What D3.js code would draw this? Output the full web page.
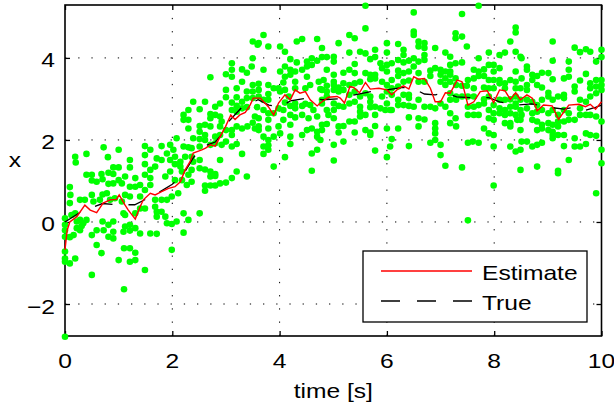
<!DOCTYPE html>
<html><head><meta charset="utf-8">
<script src="https://cdn.jsdelivr.net/npm/d3@7/dist/d3.min.js"></script>
<style>body{margin:0;background:#fff} text{font-family:"Liberation Sans",Arial,Helvetica,sans-serif;fill:#000}</style>
</head><body><svg id="c" width="614" height="413"></svg>
<script>
const xTicks=[0,2,4,6,8,10];
const yTicks=[-2,0,2,4];
const xDomain=[0,10];
const yDomain=[-2.78,5.29];
const xLabel="time [s]";
const yLabel="x";
const legendLabels=["Estimate","True"];

const estimateT=[0,0.04,0.09,0.22,0.37,0.47,0.59,0.71,0.84,0.96,1.01,1.12,1.18,1.31,1.40,1.46,1.59,1.68,1.80,1.93,2.05,2.15,2.24,2.33,2.39,2.45,2.55,2.62,2.71,2.80,2.89,2.99,3.09,3.17,3.26,3.36,3.45,3.51,3.64,3.79,3.89,3.98,4.10,4.20,4.29,4.38,4.48,4.57,4.70,4.76,4.91,5.07,5.13,5.21,5.31,5.38,5.49,5.60,5.69,5.85,6.00,6.09,6.22,6.31,6.41,6.50,6.59,6.70,6.81,6.90,7.00,7.09,7.18,7.31,7.40,7.51,7.62,7.74,7.87,7.99,8.10,8.20,8.30,8.40,8.49,8.61,8.71,8.80,8.92,9.08,9.20,9.39,9.58,9.70,9.79,9.89,10.0];
const estimateY=[-0.68,-0.2,0.0,0.13,0.41,0.29,0.23,0.46,0.54,0.55,0.66,0.41,0.29,0.07,0.37,0.54,0.70,0.66,0.74,0.82,0.86,0.98,1.27,1.47,1.68,1.71,1.76,1.80,1.88,1.85,2.08,2.32,2.61,2.50,2.61,2.67,2.85,3.02,3.02,2.81,2.61,2.90,3.10,2.98,3.22,3.14,3.18,2.98,2.83,2.90,3.04,3.06,3.02,2.90,3.30,3.28,3.15,3.40,3.24,3.26,3.22,3.10,3.26,3.32,3.24,3.54,3.48,3.50,3.26,2.93,2.93,3.15,3.14,3.46,3.42,2.85,2.93,3.18,3.20,2.91,3.22,3.20,2.99,3.15,2.98,3.10,3.02,2.71,2.85,2.83,2.50,2.85,2.87,2.81,2.87,2.75,2.93];

const trueT=[0,0.3,0.5,0.7,1.0,1.3,1.5,1.7,2.0,2.2,2.4,2.6,2.8,2.9,3.05,3.3,3.6,3.8,4.0,4.2,4.5,4.8,5.1,5.4,5.7,6.0,6.3,6.5,6.7,6.9,7.1,7.3,7.6,7.9,8.1,8.4,8.7,9.0,9.3,9.5,9.7,9.9,10.0];
const trueY=[0,0.25,0.35,0.45,0.42,0.42,0.55,0.68,0.92,1.15,1.58,1.85,1.95,2.1,2.45,2.8,2.98,2.85,2.8,2.95,3.02,2.98,3.0,3.1,3.18,3.22,3.28,3.25,3.12,3.1,3.15,3.05,3.03,3.03,2.93,2.85,2.88,2.8,2.75,2.8,2.72,2.8,2.85];

const measurements=[
[0.19,1.59],[0.20,1.45],[0.40,1.66],[0.80,1.58],[1.0,1.76],[0.72,1.82],
[0.40,1.15],[0.50,1.15],[0.50,1.01],[0.59,0.98],[0.68,1.17],[0.70,1.04],[0.81,1.20],[0.90,1.17],[0.90,1.33],[1.0,1.33],[1.0,1.02],[0.81,0.93],[0.90,0.94],[1.06,0.94],
[0.09,0.85],[0.10,0.66],[0.09,0.46],
[0.28,0.54],[0.37,0.54],[0.50,0.66],[0.53,0.50],[0.65,0.54],[0.70,0.67],[0.78,0.70],[0.84,0.54],[0.93,0.58],[1.06,0.50],
[0,0.09],[0,-0.07],[0.12,0.17],[0.19,0.21],[0.22,0.01],[0.28,0.05],[0.34,-0.03],[0.40,0.05],[0.22,-0.15],[0.28,-0.20],[0.31,-0.10],[0,-0.20],[0,-0.36],[0.09,-0.37],[0.16,-0.32],
[0.50,-0.32],[0.59,-0.20],[0.59,-0.56],[0.70,0.01],[0.72,-0.20],[0.81,-0.36],[0.90,-0.40],[0.90,0.01],[1.09,0.21],[1.09,-0.24],[1.10,-0.64],[0.68,-0.76],[0.50,-1.29],[0,-0.72],[0,-0.89],[0,-0.97],[0.09,-1.01],[0.19,-0.89],[1.0,-0.93],[1.10,-1.64],[0,-2.8],[0.81,-0.07],[0.90,-0.24],
[2.39,2.93],[2.30,2.73],[2.21,2.61],[2.21,2.49],[2.30,2.49],[2.30,2.28],[2.08,2.04],[2.39,2.04],[1.96,1.88],[2.21,1.84],[2.30,1.82],[2.36,1.80],[1.49,1.85],[1.59,1.76],[1.49,1.63],[1.80,1.85],[1.90,1.67],[2.02,1.76],
[1.21,1.51],[1.21,1.33],[1.71,1.55],[1.80,1.51],[1.96,1.51],[2.05,1.59],[2.05,1.41],[2.15,1.47],[2.15,1.35],[2.24,1.59],[2.36,1.59],[2.36,1.27],[1.49,1.41],[1.49,1.15],[1.59,1.27],[1.59,1.07],[1.68,1.35],[1.31,1.07],[1.21,0.86],[1.31,0.86],[1.40,0.90],[1.12,1.11],[1.12,0.66],[1.21,0.62],[1.40,0.62],[1.49,0.78],[1.59,0.90],[1.68,0.54],[1.80,0.54],[1.90,0.54],[1.87,1.11],[1.96,1.23],[2.05,1.02],[2.18,1.23],[2.18,1.02],[2.27,0.90],[2.30,1.15],[1.99,0.62],[2.11,0.70],[2.36,0.98],
[1.40,0.33],[1.31,0.21],[1.49,0.33],[1.68,0.37],[1.71,0.25],[1.71,0.13],[1.80,0.25],[1.87,0.13],[1.90,-0.03],[1.99,-0.05],[2.08,0.01],[2.21,0.21],[2.30,0.05],[1.12,0.17],[1.12,-0.11],[1.21,-0.07],[1.21,-0.21],[1.31,-0.15],[1.40,-0.28],[1.59,-0.28],[1.71,-0.29],[2.21,-0.26],[1.99,-0.68],[1.21,-0.64],[1.31,-0.75],[1.31,-0.93],[1.21,-0.97],[1.49,-1.17],[2.51,0.21],
[3.50,4.40],[3.59,4.32],[3.50,3.99],[3.48,3.79],[3.30,3.72],[3.39,3.64],[3.11,3.87],[3.11,3.71],[3.11,3.54],[3.00,3.60],[3.30,3.42],[2.71,3.53],[3.61,3.37],[3.50,3.34],[3.50,3.18],[3.61,3.22],[3.00,3.22],[3.20,3.26],[3.39,3.18],[3.20,3.04],[3.00,3.04],[3.30,2.93],[3.39,3.02],[3.50,3.02],[3.61,3.06],
[2.61,2.93],[2.89,2.89],[3.11,2.91],[3.20,2.83],[3.30,2.77],[3.39,2.80],[3.58,2.80],[2.80,2.81],[2.51,2.75],[2.71,2.63],[2.80,2.61],[2.71,2.53],[2.89,2.57],[2.92,2.45],[3.11,2.73],[3.20,2.69],[3.61,2.33],[3.61,2.24],[3.40,2.33],[3.50,2.42],[3.20,2.33],[3.30,2.28],[2.61,2.37],[2.51,2.34],[2.89,2.33],[3.00,2.24],[3.11,2.24],[2.71,2.33],[2.51,2.20],[2.61,2.12],[2.80,2.08],[2.89,2.12],[3.11,2.12],[2.51,2.02],[2.61,2.00],[3.00,1.96],[3.11,1.84],[2.80,1.92],[2.71,1.88],[2.51,1.84],[2.92,1.88],[3.20,1.90],[3.30,1.66],[2.89,1.51],[2.39,1.47],[2.51,1.51],[2.51,1.31],[2.61,1.28],[2.71,1.23],[2.80,1.17],[2.71,1.11],[2.80,1.12],[3.20,1.23],[3.11,1.07],[3.00,0.96],[2.89,0.94],[2.80,0.89],[2.71,0.89],[2.61,0.89],[2.61,0.76],[3.39,1.11],
[3.70,4.56],[3.61,4.36],[3.79,4.28],[4.01,4.28],[4.10,4.15],[4.32,4.40],[4.42,4.46],[4.70,4.46],[4.79,4.24],[4.79,4.02],[4.70,3.93],[4.20,3.97],[4.32,3.89],[3.70,3.71],[4.01,3.67],[4.10,3.79],[4.10,3.54],[4.20,3.71],[4.20,3.59],[4.29,3.67],[4.42,3.71],[4.51,3.91],[4.51,3.79],[4.51,3.54],[4.60,3.99],[4.60,3.83],[4.73,3.42],[4.82,3.46],[4.29,3.42],[4.07,3.40],[3.98,3.26],[3.79,3.34],
[3.79,3.12],[3.89,3.26],[4.01,3.18],[4.10,3.22],[4.29,3.26],[4.48,3.26],[4.57,3.34],[4.76,3.24],[3.70,2.98],[3.79,2.98],[4.10,2.91],[4.17,3.06],[4.20,2.83],[4.29,2.89],[4.42,2.83],[4.48,2.88],[4.57,2.85],[4.63,2.73],[4.79,2.98],[3.70,2.73],[3.79,2.65],[3.89,2.65],[3.98,2.77],[4.07,2.73],[4.29,2.77],[4.42,2.61],[4.29,2.55],[4.54,2.53],[4.70,2.57],[3.54,2.57],[3.61,2.53],[4.07,2.49],[4.20,2.61],[3.54,2.28],[3.79,2.28],[3.98,2.33],[3.79,2.49],[4.20,2.37],[4.51,2.24],[4.60,2.28],[4.70,2.20],[4.79,2.24],[3.70,2.08],[3.79,2.00],[3.89,2.08],[4.42,2.12],[4.70,2.08],[4.01,2.16],[4.20,2.08],[4.20,1.90],[3.79,1.87],[3.70,1.84],[3.79,1.76],[3.70,1.66],[4.60,1.67],[4.70,1.76],[4.10,1.58],[3.89,1.35],[4.60,1.25],
[5.60,5.27],[5.60,4.72],[5.30,4.56],[5.40,4.48],[5.10,4.36],[6.0,4.36],[5.01,4.03],[5.01,3.91],[4.88,4.02],[5.30,4.13],[5.50,4.15],[5.60,4.11],[5.78,4.20],[5.78,4.02],[5.69,3.97],[5.88,3.87],[6.0,3.83],[5.91,3.75],[6.0,3.67],[4.88,3.71],[5.01,3.59],[5.19,3.64],[5.30,3.71],[5.40,3.85],[5.40,3.63],[5.60,3.63],[5.69,3.59],[5.78,3.59],[5.69,3.48],[5.50,3.42],[4.88,3.32],[5.01,3.42],[5.01,3.34],[5.10,3.28],[5.19,3.38],[5.30,3.34],[5.40,3.38],[5.78,3.50],[5.91,3.42],[6.0,3.34],
[4.88,3.18],[4.79,3.22],[5.01,3.22],[5.10,3.18],[5.19,3.22],[5.30,3.10],[5.40,3.18],[5.60,3.14],[5.50,3.06],[5.69,3.06],[5.91,3.06],[6.0,3.18],[4.88,3.06],[5.01,2.89],[5.10,2.83],[5.19,2.81],[4.88,2.73],[5.01,2.73],[5.30,2.89],[5.40,2.93],[5.50,2.81],[5.69,2.93],[5.78,2.81],[5.69,2.80],[5.88,2.77],[5.97,2.73],[6.06,2.73],[4.79,2.89],[4.91,2.61],[5.01,2.53],[5.50,2.69],[5.60,2.61],[5.50,2.57],[5.78,2.61],[4.79,2.37],[4.88,2.39],[5.10,2.33],[5.19,2.34],[5.30,2.45],[5.40,2.45],[5.10,2.18],[5.40,2.18],[5.60,2.24],[5.69,2.18],[5.69,2.12],[5.78,2.34],[4.76,2.00],[5.01,1.88],[5.19,1.96],[5.78,1.74],[5.01,1.50],[6.0,1.58],[6.06,1.84],
[6.50,5.11],[6.50,4.64],[6.50,4.56],[6.59,4.40],[6.59,4.28],[6.70,4.36],[6.70,4.24],[6.21,4.34],[6.0,4.13],[6.90,4.24],[7.09,4.13],[7.18,4.03],[7.28,4.60],[7.28,4.48],[6.31,4.20],[6.31,4.07],[6.09,3.87],[6.21,3.95],[6.31,3.89],[6.41,3.93],[6.50,3.99],[6.59,3.91],[6.70,4.07],[6.70,3.95],[6.21,3.69],[6.31,3.63],[6.41,3.67],[6.50,3.79],[6.59,3.63],[6.81,3.69],[6.90,3.75],[7.0,3.71],[7.09,3.67],[7.18,3.83],[7.18,3.67],[7.28,3.87],
[6.09,3.46],[6.21,3.56],[6.31,3.42],[6.41,3.45],[6.59,3.42],[6.70,3.42],[6.81,3.56],[7.0,3.59],[7.09,3.50],[7.18,3.59],[7.0,3.42],[7.09,3.34],[7.18,3.42],[7.28,3.50],[6.09,3.26],[6.21,3.30],[6.31,3.10],[6.41,3.10],[6.41,3.02],[6.21,2.98],[6.09,3.10],[6.59,2.98],[6.70,2.81],[6.81,2.81],[6.90,2.77],[7.0,2.89],[7.09,2.81],[7.18,2.98],[6.0,2.89],[6.09,2.73],[6.21,2.85],[6.31,2.85],[6.41,2.83],[6.50,2.81],[6.0,2.28],[6.21,2.28],[6.41,2.55],[6.59,2.53],[6.59,2.33],[6.70,2.50],[6.90,2.41],[6.90,2.28],[6.90,2.16],[7.18,2.41],[6.09,2.02],[6.41,1.85],[6.81,1.93],[6.90,2.00],[7.0,1.88],[7.0,1.63],[7.09,1.37],[7.28,2.53],
[7.71,5.27],[7.40,5.07],[7.40,4.52],[7.49,4.28],[8.30,4.40],[8.40,4.74],[8.40,4.62],[8.49,4.03],[7.90,4.13],[8.10,4.07],[8.20,4.13],[7.40,3.89],[7.71,3.99],[7.81,3.72],[7.90,3.83],[7.99,3.83],[7.99,3.67],[8.10,3.75],[8.40,3.67],[7.62,3.71],[7.71,3.67],[7.62,3.50],[7.71,3.56],[7.81,3.56],[7.90,3.46],[7.99,3.46],[8.10,3.46],[8.20,3.38],[8.30,3.46],[8.40,3.42],[7.29,3.34],[7.40,3.32],[7.51,3.46],[7.62,3.26],[7.49,3.32],[7.81,3.28],[7.90,3.26],[7.99,3.26],[8.10,3.38],[8.20,3.26],[8.40,3.26],[8.49,3.26],
[7.18,3.14],[7.29,3.06],[7.40,3.06],[7.51,3.06],[7.62,3.06],[7.81,2.99],[7.90,3.06],[8.10,2.98],[8.20,2.98],[8.30,2.99],[8.49,2.98],[7.29,2.98],[7.51,2.81],[7.62,2.81],[7.71,2.85],[7.81,2.89],[7.99,2.85],[8.10,2.77],[8.20,2.73],[8.30,2.81],[8.40,2.89],[8.49,2.73],[7.51,2.61],[7.62,2.61],[7.71,2.61],[7.90,2.73],[7.99,2.65],[8.10,2.65],[8.20,2.61],[8.30,2.65],[8.40,2.61],[7.18,2.65],[7.29,2.33],[7.90,2.53],[7.99,2.49],[8.20,2.41],[8.30,2.41],[8.30,2.33],[8.43,2.49],[7.81,2.28],[7.90,2.16],[7.99,2.12],[8.49,2.24],[7.51,1.93],[7.60,1.96],[7.71,1.93],[7.99,1.84],[8.30,1.84],[8.40,1.72],[8.49,1.76],[7.40,1.33],[8.49,1.27],[7.99,0.89],[7.51,0.04],
[9.09,4.40],[9.50,4.25],[9.60,4.14],[9.71,4.21],[9.79,4.15],[10.0,4.20],[10.0,4.02],[8.40,4.15],[8.51,3.99],[8.61,3.79],[8.61,3.71],[9.09,3.93],[9.39,3.91],[9.39,3.71],[9.90,3.91],[8.51,3.50],[8.71,3.59],[8.71,3.46],[8.80,3.56],[8.89,3.64],[9.01,3.63],[9.09,3.48],[9.30,3.50],[9.39,3.54],[9.60,3.45],[9.71,3.61],[9.79,3.38],[9.90,3.46],[10.0,3.46],[10.0,3.34],[10.0,3.22],[8.61,3.34],[8.61,3.22],[8.80,3.34],[8.89,3.28],[9.01,3.15],[9.01,3.06],[9.30,3.10],[9.50,3.30],[9.50,3.18],[9.79,3.26],[9.90,3.30],[9.90,3.14],
[8.40,3.06],[8.61,2.98],[8.71,2.93],[8.80,2.85],[8.89,2.98],[9.09,2.98],[9.19,3.06],[9.30,3.02],[9.60,2.98],[9.71,2.93],[9.79,3.06],[8.40,2.81],[8.51,2.61],[8.61,2.77],[8.71,2.65],[8.80,2.69],[8.89,2.73],[9.01,2.65],[9.09,2.73],[9.19,2.61],[9.30,2.73],[9.39,2.65],[9.60,2.77],[9.60,2.61],[9.71,2.61],[9.79,2.61],[9.90,2.57],[10.0,2.45],[8.49,2.49],[8.71,2.49],[8.80,2.45],[8.89,2.37],[9.01,2.41],[9.09,2.37],[9.19,2.45],[9.30,2.45],[9.39,2.49],[9.50,2.49],[8.80,2.24],[8.89,2.28],[9.01,2.24],[9.09,2.20],[9.19,2.33],[9.09,2.12],[9.09,2.04],[9.19,2.12],[9.30,2.12],[9.50,2.04],[9.71,2.16],[9.79,2.12],[9.90,2.10],[8.51,1.96],[8.61,1.96],[8.71,1.84],[8.80,1.88],[8.89,1.93],[9.30,1.85],[9.50,1.84],[9.60,1.84],[9.71,1.90],[10.0,1.76],[9.39,1.51],[10.0,1.43],[8.80,1.35],[9.19,1.25],[9.19,1.19],[9.90,0.70]
];

const svg=d3.select("#c");
const x=d3.scaleLinear().domain(xDomain).range([65,601.5]);
const y=d3.scaleLinear().domain(yDomain).range([336,5]);
const FS=20.5, SX=1.2;
const [x0,x1]=x.range(), [y0,y1]=y.range();

// grid
svg.append("g").selectAll("line").data(xTicks.slice(1,-1)).join("line")
 .attr("x1",d=>x(d)).attr("x2",d=>x(d)).attr("y1",y0).attr("y2",y1)
 .attr("stroke","#000").attr("stroke-width",1).attr("stroke-dasharray","1.3,11.9");
svg.append("g").selectAll("line").data(yTicks).join("line")
 .attr("y1",d=>y(d)).attr("y2",d=>y(d)).attr("x1",x0).attr("x2",x1)
 .attr("stroke","#000").attr("stroke-width",1).attr("stroke-dasharray","1.3,11.9");

// axes with inward ticks (labels added separately so they can be stretched)
const axB=d3.axisBottom(x).tickValues(xTicks).tickSize(-5).tickFormat("");
const axL=d3.axisLeft(y).tickValues(yTicks).tickSize(-5).tickFormat("");
const axT=d3.axisTop(x).tickValues(xTicks).tickSize(-5).tickFormat("");
const axR=d3.axisRight(y).tickValues(yTicks).tickSize(-5).tickFormat("");
function styleAx(sel){sel.select(".domain").remove();
 sel.selectAll("line").attr("stroke","#000").attr("stroke-width",1.3);}
svg.append("g").attr("transform",`translate(0,${y0})`).call(axB).call(styleAx);
svg.append("g").attr("transform",`translate(${x0},0)`).call(axL).call(styleAx);
svg.append("g").attr("transform",`translate(0,${y1})`).call(axT).call(styleAx);
svg.append("g").attr("transform",`translate(${x1},0)`).call(axR).call(styleAx);
svg.append("rect").attr("x",x0).attr("y",y1).attr("width",x1-x0).attr("height",y0-y1)
 .attr("fill","none").attr("stroke","#000").attr("stroke-width",1.6);

function stretchedText(px,py,str,anchor,size){
 return svg.append("text").attr("transform",`translate(${px},${py}) scale(${SX},1)`)
  .attr("text-anchor",anchor).attr("font-size",size||FS).text(str);
}
xTicks.forEach(t=>stretchedText(x(t),368,String(t),"middle"));
yTicks.forEach(v=>stretchedText(55,y(v)+9.5,(v<0?"\u2212":"")+Math.abs(v),"end"));
stretchedText((x0+x1)/2,397.5,xLabel,"middle");
stretchedText(15,167,yLabel,"middle");

// measurements
svg.append("g").selectAll("circle").data(measurements).join("circle")
 .attr("cx",d=>x(d[0])).attr("cy",d=>y(d[1])).attr("r",3.3).attr("fill","#00ff00");

// lines
const line=d3.line().x(d=>x(d[0])).y(d=>y(d[1]));
svg.append("path").datum(trueT.map((t,i)=>[t,trueY[i]])).attr("d",line)
 .attr("fill","none").attr("stroke","#000").attr("stroke-width",1.3).attr("stroke-dasharray","18,16");
svg.append("path").datum(estimateT.map((t,i)=>[t,estimateY[i]])).attr("d",line)
 .attr("fill","none").attr("stroke","#ff0000").attr("stroke-width",1.4);

// legend
svg.append("rect").attr("x",363).attr("y",251).attr("width",224).attr("height",71).attr("fill","#fff").attr("stroke","#000").attr("stroke-width",1.3);
const legendStyles=[{c:"#ff0000",da:null},{c:"#000",da:"19,17"}];
legendLabels.forEach((lab,i)=>{
 const yy=271+i*30;
 svg.append("line").attr("x1",381).attr("x2",472).attr("y1",yy).attr("y2",yy).attr("stroke",legendStyles[i].c).attr("stroke-width",1.4).attr("stroke-dasharray",legendStyles[i].da);
 stretchedText(482,yy+9,lab,"start");
});
</script></body></html>
